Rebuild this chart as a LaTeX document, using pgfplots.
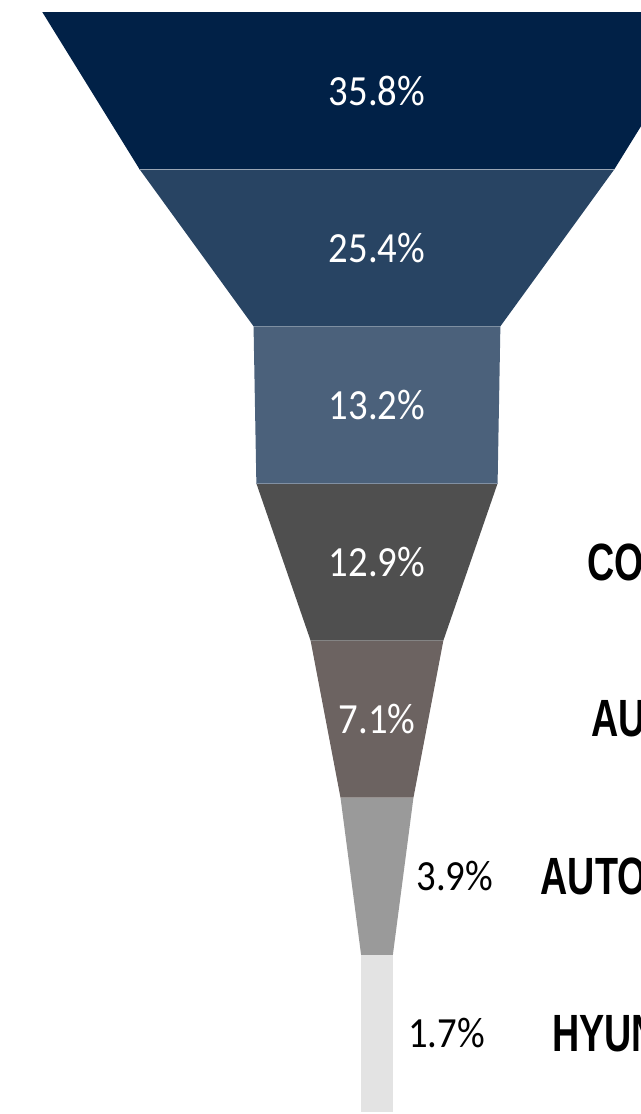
\documentclass[border=0pt]{standalone}
\usepackage{pgfplots}
\pgfplotsset{compat=1.18}
\usepackage{fontspec}
\setmainfont{Carlito}[FakeStretch=0.9]
\newfontfamily\labelfont{Liberation Sans}[FakeStretch=0.72]
\definecolor{c1}{HTML}{012147}
\definecolor{c2}{HTML}{284463}
\definecolor{c3}{HTML}{4B617B}
\definecolor{c4}{HTML}{4F4F4F}
\definecolor{c5}{HTML}{6C6361}
\definecolor{c6}{HTML}{9A9A9A}
\definecolor{c7}{HTML}{E3E3E3}
\tikzset{
  pct/.style={font=\fontsize{21.5}{24}\selectfont, text=white, anchor=center},
  pctout/.style={font=\fontsize{21.5}{24}\selectfont, text=black, anchor=west},
  nm/.style={font=\labelfont\bfseries\fontsize{26.2}{28}\selectfont, text=black, anchor=west},
}
\begin{document}
\begin{tikzpicture}
\begin{axis}[
  at={(0,0)}, anchor=south west,
  scale only axis, width=320.5pt, height=557pt,
  xmin=-20.16, xmax=14.12, ymin=-0.0764, ymax=7.013,
  y dir=reverse, hide axis, clip=true,
]
% funnel: half widths = value/2
\addplot[fill=c1, draw=none] coordinates {(-17.9,0) (17.9,0) (12.7,1) (-12.7,1)} -- cycle;
\addplot[fill=c2, draw=none] coordinates {(-12.7,1) (12.7,1) (6.6,2) (-6.6,2)} -- cycle;
\addplot[fill=c3, draw=none] coordinates {(-6.6,2) (6.6,2) (6.45,3) (-6.45,3)} -- cycle;
\addplot[fill=c4, draw=none] coordinates {(-6.45,3) (6.45,3) (3.55,4) (-3.55,4)} -- cycle;
\addplot[fill=c5, draw=none] coordinates {(-3.55,4) (3.55,4) (1.95,5) (-1.95,5)} -- cycle;
\addplot[fill=c6, draw=none] coordinates {(-1.95,5) (1.95,5) (0.85,6) (-0.85,6)} -- cycle;
\addplot[fill=c7, draw=none] coordinates {(-0.85,6) (0.85,6) (0.85,7) (-0.85,7)} -- cycle;
% thin separators
\addplot[white!60!c1, line width=0.4pt] coordinates {(-12.7,1) (12.7,1)};
\addplot[white!40!c2, line width=0.4pt] coordinates {(-6.6,2) (6.6,2)};
\addplot[white!30!c3, line width=0.4pt] coordinates {(-6.45,3) (6.45,3)};
\addplot[white!30!c4, line width=0.4pt] coordinates {(-3.55,4) (3.55,4)};
\addplot[white!30!c5, line width=0.4pt] coordinates {(-1.95,5) (1.95,5)};
% value labels
\node[pct] at (axis cs:0,0.5) {35.8\%};
\node[pct] at (axis cs:0,1.5) {25.4\%};
\node[pct] at (axis cs:0,2.5) {13.2\%};
\node[pct] at (axis cs:0,3.5) {12.9\%};
\node[pct] at (axis cs:0,4.5) {7.1\%};
\node[pctout] at (axis cs:1.73,5.5) {3.9\%};
\node[pctout] at (axis cs:1.3,6.5) {1.7\%};
% category labels (cut by the right edge)
\node[nm] at (axis cs:10.88,3.5) {CONTINENTAL};
\node[nm] at (axis cs:11.08,4.5) {AUDI};
\node[nm] at (axis cs:8.38,5.5) {AUTOLIV};
\node[nm] at (axis cs:9.0,6.5) {HYUNDAI};
\end{axis}
\pgfresetboundingbox
\useasboundingbox (0,0) rectangle (320.5pt,557pt);
\end{tikzpicture}
\end{document}
